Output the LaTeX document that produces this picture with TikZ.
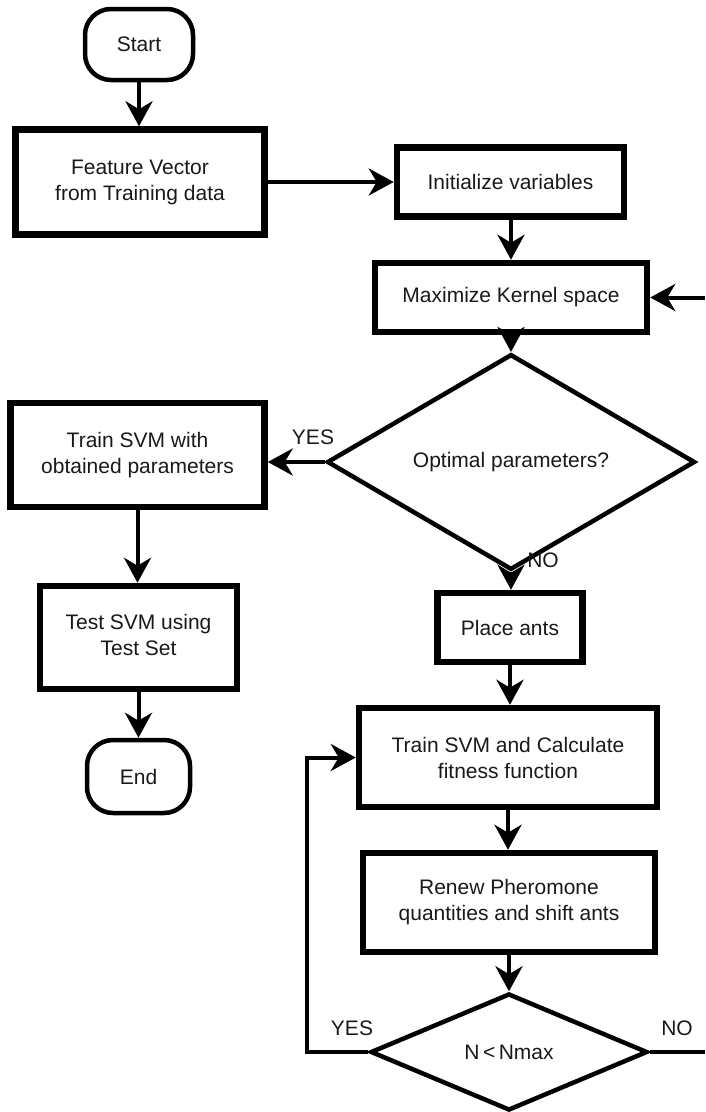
\documentclass[tikz,border=0pt]{standalone}
\usepackage{fontspec}
\setmainfont{Liberation Sans}
\usetikzlibrary{arrows.meta,shapes.geometric}
\begin{document}
\begin{tikzpicture}[x=1pt,y=-1pt,
  every node/.style={font=\fontsize{21}{26}\selectfont, text=black!90, align=center},
  procbox/.style={draw, rectangle, line width=6.5pt, inner sep=0pt},
  termbox/.style={draw, rectangle, rounded corners=26pt, line width=4.5pt, inner sep=0pt},
  decision/.style={draw, diamond, line width=4.5pt, inner sep=0pt},
  flow/.style={line width=4pt, -{Stealth[length=25pt,width=27pt,inset=8pt]}},
  plain/.style={line width=4pt},
  lbl/.style={inner sep=0pt}
]
\useasboundingbox (0,0) rectangle (705,1112);

% left column
\node[termbox, minimum width=108pt, minimum height=71pt] (start) at (139,44.5) {Start};
\node[procbox, minimum width=249pt, minimum height=105pt] (feat) at (140,182) {Feature Vector\\from Training data};
\node[procbox, minimum width=254pt, minimum height=104pt] (train) at (137.5,455) {Train SVM with\\obtained parameters};
\node[procbox, minimum width=197pt, minimum height=103pt] (test) at (138.5,637.5) {\raisebox{7pt}{\begin{tabular}{@{}c@{}}Test SVM using\\Test Set\end{tabular}}};
\node[termbox, minimum width=103pt, minimum height=73pt] (endn) at (138.5,776.5) {End};

% right column
\node[procbox, minimum width=227pt, minimum height=69pt] (init) at (510.5,182) {Initialize variables};
\node[procbox, minimum width=272pt, minimum height=69pt] (maxk) at (511,297.5) {Maximize Kernel space};
\node[decision, minimum width=368pt, minimum height=182pt] (opt) at (511,462) {Optimal parameters?};
\node[procbox, minimum width=145pt, minimum height=69pt] (place) at (510,627.5) {Place ants};
\node[procbox, minimum width=298pt, minimum height=99pt] (fit) at (508,757.5) {Train SVM and Calculate\\fitness function};
\node[procbox, minimum width=292pt, minimum height=99pt] (renew) at (509,902.5) {Renew Pheromone\\quantities and shift ants};
\node[decision, minimum width=277pt, minimum height=117pt] (nmax) at (509,1052) {N\,<\,Nmax};

% loose ends of the return path to the kernel step
\coordinate (noend) at (705,1052);
\coordinate (noback) at (705,297.5);
\coordinate (yescorner) at (307,1052);

% connectors
\draw[flow] (start.south) -- (start.south |- feat.north);
\draw[flow] (feat.east) -- (init.west);
\draw[flow] (init.south -| maxk.north) -- (maxk.north);
\draw[flow] (maxk.south) -- (opt.north);
\draw[flow] (opt.west) -- (opt.west -| train.east);
\draw[flow] (train.south) -- (train.south |- test.north);
\draw[flow] (test.south) -- (test.south |- endn.north);
\draw[flow] (opt.south) -- (opt.south |- place.north);
\draw[flow] (place.south) -- (place.south |- fit.north);
\draw[flow] (fit.south) -- (fit.south |- renew.north);
\draw[flow] (renew.south) -- (renew.south |- nmax.north);
\draw[flow] (nmax.west) -- (yescorner) |- (fit.west);
\draw[plain] (nmax.east) -- (noend);
\draw[flow] (noback) -- (maxk.east);

% branch labels
\node[lbl] (yes1) at (313,437) {YES};
\node[lbl] (no1) at (543,560) {NO};
\node[lbl] (yes2) at (352,1028) {YES};
\node[lbl] (no2) at (677,1028) {NO};
\end{tikzpicture}
\end{document}
